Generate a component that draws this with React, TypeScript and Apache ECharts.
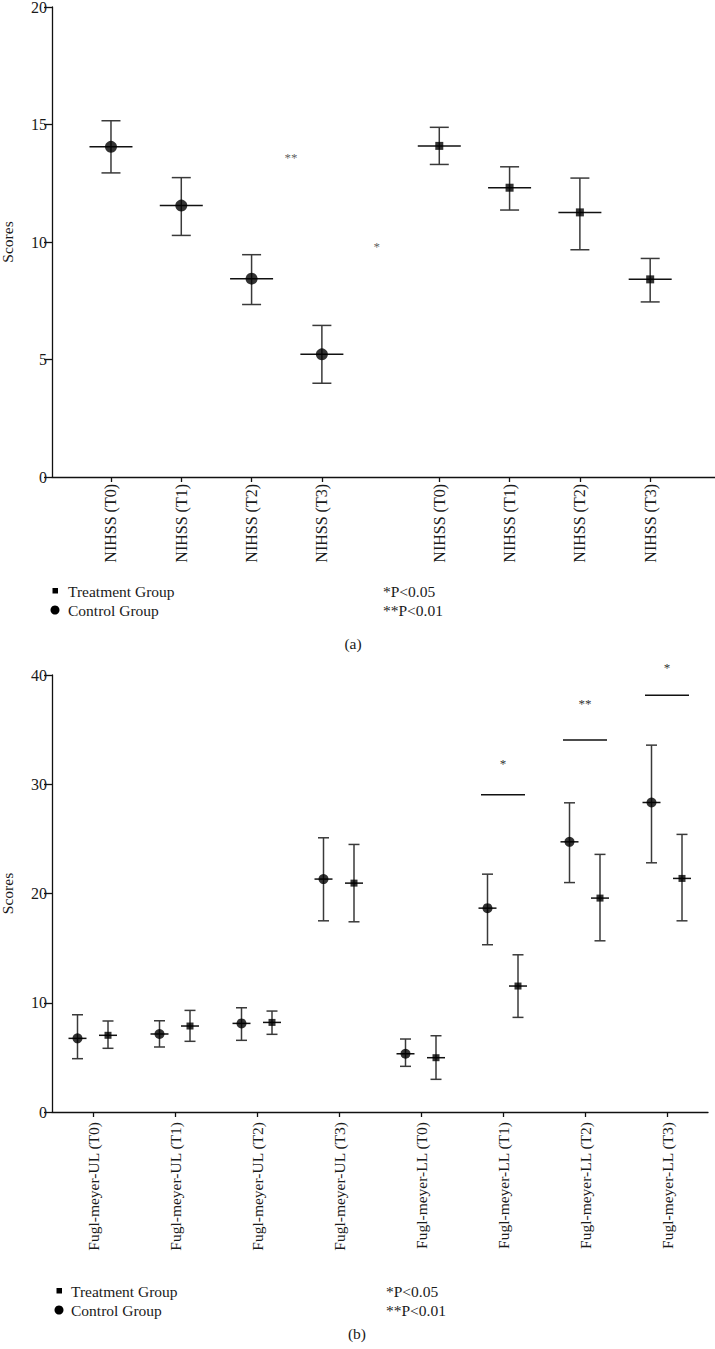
import React, { useEffect, useRef } from "react";
import * as echarts from "echarts";

// ---------- Panel (a): NIHSS ----------
const topLabels = ["NIHSS (T0)", "NIHSS (T1)", "NIHSS (T2)", "NIHSS (T3)", "NIHSS (T0)", "NIHSS (T1)", "NIHSS (T2)", "NIHSS (T3)"];
const topControlX = [1, 2, 3, 4];
const topTreatX = [5.67, 6.67, 7.67, 8.67];
const topControlMean = [14.05, 11.55, 8.44, 5.22];
const topControlLow = [12.94, 10.28, 7.34, 3.99];
const topControlHigh = [15.16, 12.74, 9.46, 6.45];
const topTreatMean = [14.09, 12.31, 11.26, 8.41];
const topTreatLow = [13.3, 11.36, 9.67, 7.45];
const topTreatHigh = [14.88, 13.2, 12.72, 9.3];
const topSigX = [3.56, 4.78];
const topSigY = [13.6, 9.8];
const topSigText = ["**", "*"];

// ---------- Panel (b): Fugl-meyer ----------
const bottomCats = [
  "Fugl-meyer-UL (T0)", "Fugl-meyer-UL (T1)", "Fugl-meyer-UL (T2)", "Fugl-meyer-UL (T3)",
  "Fugl-meyer-LL (T0)", "Fugl-meyer-LL (T1)", "Fugl-meyer-LL (T2)", "Fugl-meyer-LL (T3)",
];
const ctrlMean = [6.74, 7.14, 8.11, 21.32, 5.33, 18.66, 24.73, 28.33];
const ctrlLow = [4.88, 5.95, 6.56, 17.5, 4.18, 15.31, 21.0, 22.81];
const ctrlHigh = [8.9, 8.35, 9.54, 25.1, 6.68, 21.77, 28.3, 33.58];
const trtMean = [7.02, 7.87, 8.2, 20.95, 4.97, 11.53, 19.58, 21.38];
const trtLow = [5.83, 6.47, 7.11, 17.41, 2.99, 8.66, 15.67, 17.5];
const trtHigh = [8.33, 9.3, 9.24, 24.49, 6.98, 14.39, 23.58, 25.41];
const sigCats = [5, 6, 7];
const sigLineY = [29.03, 34.06, 38.15];
const sigTextY = [31.9, 37.4, 40.7];
const sigText = ["*", "**", "*"];

const legendNames = ["Treatment Group", "Control Group"];
const pNotes = ["*P<0.05", "**P<0.01"];

const FONT = "Liberation Serif";
const TXT = "#1a1a1a";

function errRender(capHalf: number, meanHalf: number, offset: number) {
  return (params: any, api: any) => {
    const x = api.value(0);
    const pm = api.coord([x, api.value(1)]);
    const pl = api.coord([x, api.value(2)]);
    const ph = api.coord([x, api.value(3)]);
    const cx = pm[0] + offset;
    const s = { stroke: "#3a3a3a", lineWidth: 1.5 };
    const sm = { stroke: "#111", lineWidth: 1.5 };
    return {
      type: "group",
      children: [
        { type: "line", shape: { x1: cx, y1: pl[1], x2: cx, y2: ph[1] }, style: s },
        { type: "line", shape: { x1: cx - capHalf, y1: ph[1], x2: cx + capHalf, y2: ph[1] }, style: s },
        { type: "line", shape: { x1: cx - capHalf, y1: pl[1], x2: cx + capHalf, y2: pl[1] }, style: s },
        { type: "line", shape: { x1: cx - meanHalf, y1: pm[1], x2: cx + meanHalf, y2: pm[1] }, style: sm },
      ],
    };
  };
}

export default function App() {
  const ref = useRef<HTMLDivElement>(null);
  useEffect(() => {
    if (!ref.current) return;
    const chart = echarts.init(ref.current, undefined, { renderer: "svg" });
    const topTickVals = [...topControlX, ...topTreatX];
    const labelFor = (v: number) => {
      const i = topTickVals.findIndex((t) => Math.abs(t - v) < 1e-6);
      return i >= 0 ? topLabels[i] : "";
    };
    const yAxisCommon = {
      type: "value",
      axisLine: { show: true, lineStyle: { color: "#111", width: 1.3 } },
      axisTick: { show: true, inside: false, length: 8, lineStyle: { color: "#111", width: 1.3 } },
      axisLabel: { fontFamily: FONT, fontSize: 16, color: TXT, margin: 5 },
      splitLine: { show: false },
      name: "Scores",
      nameLocation: "middle",
      nameRotate: 90,
      nameGap: 37,
      nameTextStyle: { fontFamily: FONT, fontSize: 15.5, color: TXT },
    };
    const option: any = {
      animation: false,
      backgroundColor: "#fff",
      grid: [
        { left: 52, top: 7, width: 663, height: 470, containLabel: false, outerBoundsMode: "none" },
        { left: 52, top: 675, width: 656, height: 437, containLabel: false, outerBoundsMode: "none" },
      ],
      xAxis: [
        {
          gridIndex: 0,
          type: "value",
          min: 0.161,
          max: 9.592,
          axisLine: { show: true, lineStyle: { color: "#111", width: 1.3 } },
          axisTick: { show: true, length: 5, customValues: topTickVals, lineStyle: { color: "#111", width: 1.3 } },
          axisLabel: {
            customValues: topTickVals,
            rotate: 90,
            margin: 7,
            fontFamily: FONT,
            fontSize: 16,
            color: TXT,
            formatter: (v: number) => labelFor(v),
          },
          splitLine: { show: false },
        },
        {
          gridIndex: 1,
          type: "category",
          data: bottomCats,
          boundaryGap: true,
          axisLine: { show: true, lineStyle: { color: "#111", width: 1.3 } },
          axisTick: { show: true, alignWithLabel: true, length: 5, lineStyle: { color: "#111", width: 1.3 } },
          axisLabel: { rotate: 90, margin: 10, fontFamily: FONT, fontSize: 15.5, color: TXT, interval: 0 },
          splitLine: { show: false },
        },
      ],
      yAxis: [
        { ...yAxisCommon, gridIndex: 0, min: 0, max: 20, interval: 5 },
        { ...yAxisCommon, gridIndex: 1, min: 0, max: 40, interval: 10 },
      ],
      series: [
        // Panel (a)
        {
          type: "custom", xAxisIndex: 0, yAxisIndex: 0, z: 2,
          renderItem: errRender(9.5, 21.5, 0),
          data: topControlX.map((x, i) => [x, topControlMean[i], topControlLow[i], topControlHigh[i]]),
        },
        {
          type: "custom", xAxisIndex: 0, yAxisIndex: 0, z: 2,
          renderItem: errRender(9.5, 21.5, 0),
          data: topTreatX.map((x, i) => [x, topTreatMean[i], topTreatLow[i], topTreatHigh[i]]),
        },
        {
          name: "Control Group", type: "scatter", xAxisIndex: 0, yAxisIndex: 0, z: 3,
          symbol: "circle", symbolSize: 12, itemStyle: { color: "#000" },
          data: topControlX.map((x, i) => [x, topControlMean[i]]),
        },
        {
          name: "Treatment Group", type: "scatter", xAxisIndex: 0, yAxisIndex: 0, z: 3,
          symbol: "rect", symbolSize: 8, itemStyle: { color: "#000" },
          data: topTreatX.map((x, i) => [x, topTreatMean[i]]),
        },
        {
          type: "scatter", xAxisIndex: 0, yAxisIndex: 0, symbolSize: 0, silent: true,
          label: {
            show: true, position: "inside", fontFamily: FONT, fontSize: 13, color: "#333",
            formatter: (p: any) => topSigText[p.dataIndex],
          },
          data: topSigX.map((x, i) => [x, topSigY[i]]),
        },
        // Panel (b)
        {
          type: "custom", xAxisIndex: 1, yAxisIndex: 1, z: 2,
          renderItem: errRender(5.5, 9, -15.5),
          data: bottomCats.map((_, i) => [i, ctrlMean[i], ctrlLow[i], ctrlHigh[i]]),
        },
        {
          type: "custom", xAxisIndex: 1, yAxisIndex: 1, z: 2,
          renderItem: errRender(5.5, 9, 15),
          data: bottomCats.map((_, i) => [i, trtMean[i], trtLow[i], trtHigh[i]]),
        },
        {
          type: "scatter", xAxisIndex: 1, yAxisIndex: 1, z: 3,
          symbol: "circle", symbolSize: 10, symbolOffset: [-15.5, 0], itemStyle: { color: "#000" },
          data: bottomCats.map((_, i) => [i, ctrlMean[i]]),
        },
        {
          type: "scatter", xAxisIndex: 1, yAxisIndex: 1, z: 3,
          symbol: "rect", symbolSize: 7, symbolOffset: [15, 0], itemStyle: { color: "#000" },
          data: bottomCats.map((_, i) => [i, trtMean[i]]),
        },
        {
          type: "custom", xAxisIndex: 1, yAxisIndex: 1, clip: false, z: 2,
          renderItem: (params: any, api: any) => {
            const i = params.dataIndex;
            const pl = api.coord([api.value(0), api.value(1)]);
            const pt = api.coord([api.value(0), api.value(2)]);
            return {
              type: "group",
              children: [
                { type: "line", shape: { x1: pl[0] - 22, y1: pl[1], x2: pl[0] + 22, y2: pl[1] }, style: { stroke: "#111", lineWidth: 1.5 } },
                {
                  type: "text",
                  style: {
                    x: pt[0], y: pt[1], text: sigText[i], fontFamily: FONT, fontSize: 13,
                    fill: "#333", align: "center", verticalAlign: "middle",
                  },
                },
              ],
            };
          },
          data: sigCats.map((c, i) => [c, sigLineY[i], sigTextY[i]]),
        },
      ],
      graphic: [
        // legend (a)
        { type: "rect", shape: { x: 52.5, y: 588, width: 5.5, height: 5.5 }, style: { fill: "#000" } },
        { type: "circle", shape: { cx: 55, cy: 610, r: 4.5 }, style: { fill: "#000" } },
        { type: "text", style: { x: 68, y: 591, text: legendNames[0], fontFamily: FONT, fontSize: 15.5, fill: TXT, verticalAlign: "middle" } },
        { type: "text", style: { x: 68, y: 610, text: legendNames[1], fontFamily: FONT, fontSize: 15.5, fill: TXT, verticalAlign: "middle" } },
        { type: "text", style: { x: 383, y: 591, text: pNotes[0], fontFamily: FONT, fontSize: 15.5, fill: TXT, verticalAlign: "middle" } },
        { type: "text", style: { x: 383, y: 610, text: pNotes[1], fontFamily: FONT, fontSize: 15.5, fill: TXT, verticalAlign: "middle" } },
        { type: "text", style: { x: 353, y: 643, text: "(a)", fontFamily: FONT, fontSize: 15.5, fill: TXT, align: "center", verticalAlign: "middle" } },
        // legend (b)
        { type: "rect", shape: { x: 56.5, y: 1288, width: 5.5, height: 5.5 }, style: { fill: "#000" } },
        { type: "circle", shape: { cx: 59, cy: 1310, r: 4.5 }, style: { fill: "#000" } },
        { type: "text", style: { x: 71, y: 1291, text: legendNames[0], fontFamily: FONT, fontSize: 15.5, fill: TXT, verticalAlign: "middle" } },
        { type: "text", style: { x: 71, y: 1310, text: legendNames[1], fontFamily: FONT, fontSize: 15.5, fill: TXT, verticalAlign: "middle" } },
        { type: "text", style: { x: 386, y: 1291, text: pNotes[0], fontFamily: FONT, fontSize: 15.5, fill: TXT, verticalAlign: "middle" } },
        { type: "text", style: { x: 386, y: 1310, text: pNotes[1], fontFamily: FONT, fontSize: 15.5, fill: TXT, verticalAlign: "middle" } },
        { type: "text", style: { x: 357, y: 1333, text: "(b)", fontFamily: FONT, fontSize: 15.5, fill: TXT, align: "center", verticalAlign: "middle" } },
      ],
    };
    chart.setOption(option);
    return () => chart.dispose();
  }, []);
  return (
    <div
      ref={ref}
      style={{ position: "absolute", left: 0, top: 0, width: 715, height: 1349, background: "#fff" }}
    />
  );
}
